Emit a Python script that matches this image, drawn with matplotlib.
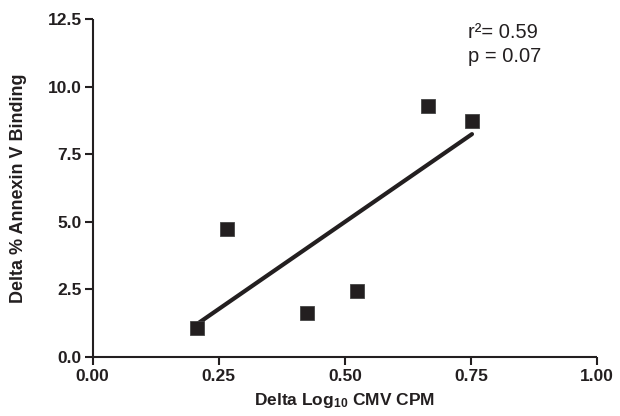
import numpy as np
import matplotlib
matplotlib.use("Agg")
import matplotlib.pyplot as plt

# Data
delta_log_cmv = [0.207, 0.266, 0.424, 0.524, 0.665, 0.752]
delta_annexin = [1.05, 4.73, 1.62, 2.42, 9.30, 8.74]
x_ticks = [0.00, 0.25, 0.50, 0.75, 1.00]
x_tick_labels = ["0.00", "0.25", "0.50", "0.75", "1.00"]
y_ticks = [0.0, 2.5, 5.0, 7.5, 10.0, 12.5]
y_tick_labels = ["0.0", "2.5", "5.0", "7.5", "10.0", "12.5"]
r2_text = "r\u00b2= 0.59"
p_text = "p = 0.07"

plt.rcParams["font.family"] = ["Liberation Sans", "DejaVu Sans"]
plt.rcParams["mathtext.fontset"] = "custom"
plt.rcParams["mathtext.rm"] = "Liberation Sans:bold"
plt.rcParams["mathtext.bf"] = "Liberation Sans:bold"
plt.rcParams["mathtext.it"] = "Liberation Sans:bold"
plt.rcParams["mathtext.default"] = "bf"

ink = "#231f20"
fig = plt.figure(figsize=(6.2, 4.16), dpi=100)
ax = fig.add_axes([0.1495, 0.1425, 0.8135, 0.8115])

x = np.array(delta_log_cmv)
y = np.array(delta_annexin)
slope, intercept = np.polyfit(x, y, 1)
xl = np.array([x.min(), x.max()])
ax.plot(xl, slope * xl + intercept, color=ink, lw=3.0, solid_capstyle="round", zorder=2)
ax.plot(x, y, ls="none", marker="s", ms=10.5, mfc=ink, mec="#444444", mew=0.6, zorder=3)

ax.set_xlim(0, 1.0)
ax.set_ylim(0, 12.5)
ax.set_xticks(x_ticks)
ax.set_xticklabels(x_tick_labels)
ax.set_yticks(y_ticks)
ax.set_yticklabels(y_tick_labels)
for s in ["top", "right"]:
    ax.spines[s].set_visible(False)
for s in ["left", "bottom"]:
    ax.spines[s].set_linewidth(1.5)
    ax.spines[s].set_color(ink)
    ax.spines[s].set_capstyle("butt")
ax.tick_params(axis="both", direction="out", length=6, width=1.5, color=ink,
               labelsize=12.5, pad=3)
ax.tick_params(axis="y", pad=2)
for lab in ax.get_xticklabels() + ax.get_yticklabels():
    lab.set_fontweight("bold")
    lab.set_color(ink)
ax.set_xlabel("Delta Log$_{10}$ CMV CPM", fontsize=12.5, fontweight="bold", color=ink, labelpad=5)
ax.set_ylabel("Delta % Annexin V Binding", fontsize=13, fontweight="bold", color=ink, labelpad=8)
ax.yaxis.set_label_coords(-0.13, 0.5)

ax.text(0.744, 0.959, r2_text, transform=ax.transAxes, fontsize=14.5, color=ink, ha="left", va="center")
ax.text(0.744, 0.888, p_text, transform=ax.transAxes, fontsize=14.5, color=ink, ha="left", va="center")

fig.savefig("out.png", dpi=100)
